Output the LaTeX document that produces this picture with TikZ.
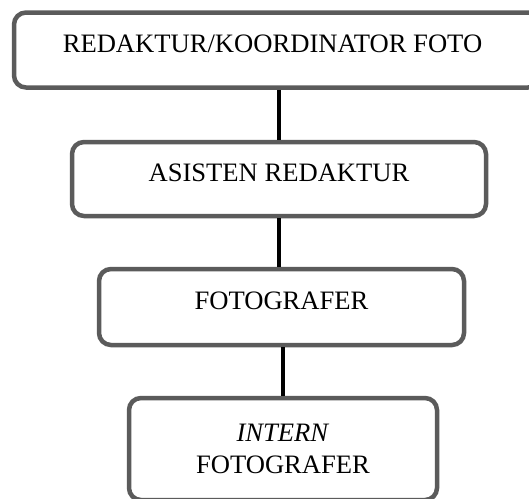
\documentclass[tikz,border=0pt]{standalone}
\usepackage{fontspec}
\setmainfont{Liberation Serif}
\usepackage{tikz}
\tikzset{
  font={\fontsize{26.6pt}{32pt}\selectfont}}
\definecolor{boxgray}{HTML}{5B5B5B}
\tikzset{
  orgbox/.style={draw=boxgray, line width=4.5pt, fill=white, rounded corners=12pt, inner sep=0pt},
  oneline/.style={text height=17.8pt, text depth=12pt},
  spine/.style={draw=black, line width=3.2pt}}

\begin{document}
\begin{tikzpicture}[x=1pt,y=-1pt]
%% page size of the reference, the boxes that run off it are cut
    \useasboundingbox (0,0) rectangle (529,498);
    \clip (0,0) rectangle (529,498);
%% the four boxes, top to bottom
    \node[orgbox, oneline, minimum width=526pt, minimum height=75pt] (redaktur) at (277,50) {\hspace*{-9pt}REDAKTUR/KOORDINATOR FOTO};
    \node[orgbox, oneline, minimum width=414pt, minimum height=74pt] (asisten) at (279,179) {ASISTEN REDAKTUR};
    \node[orgbox, oneline, minimum width=365pt, minimum height=76pt] (fotografer) at (281.5,307) {FOTOGRAFER};
    \node[orgbox, align=center, minimum width=308pt, minimum height=102pt] (intern) at (283,449) {\textit{INTERN}\\FOTOGRAFER};
%% lines between them
    \draw[spine] (asisten.north |- redaktur.south) -- (asisten.north);
    \draw[spine] (asisten.south) -- (asisten.south |- fotografer.north);
    \draw[spine] (intern.north |- fotografer.south) -- (intern.north);
\end{tikzpicture}
\end{document}
